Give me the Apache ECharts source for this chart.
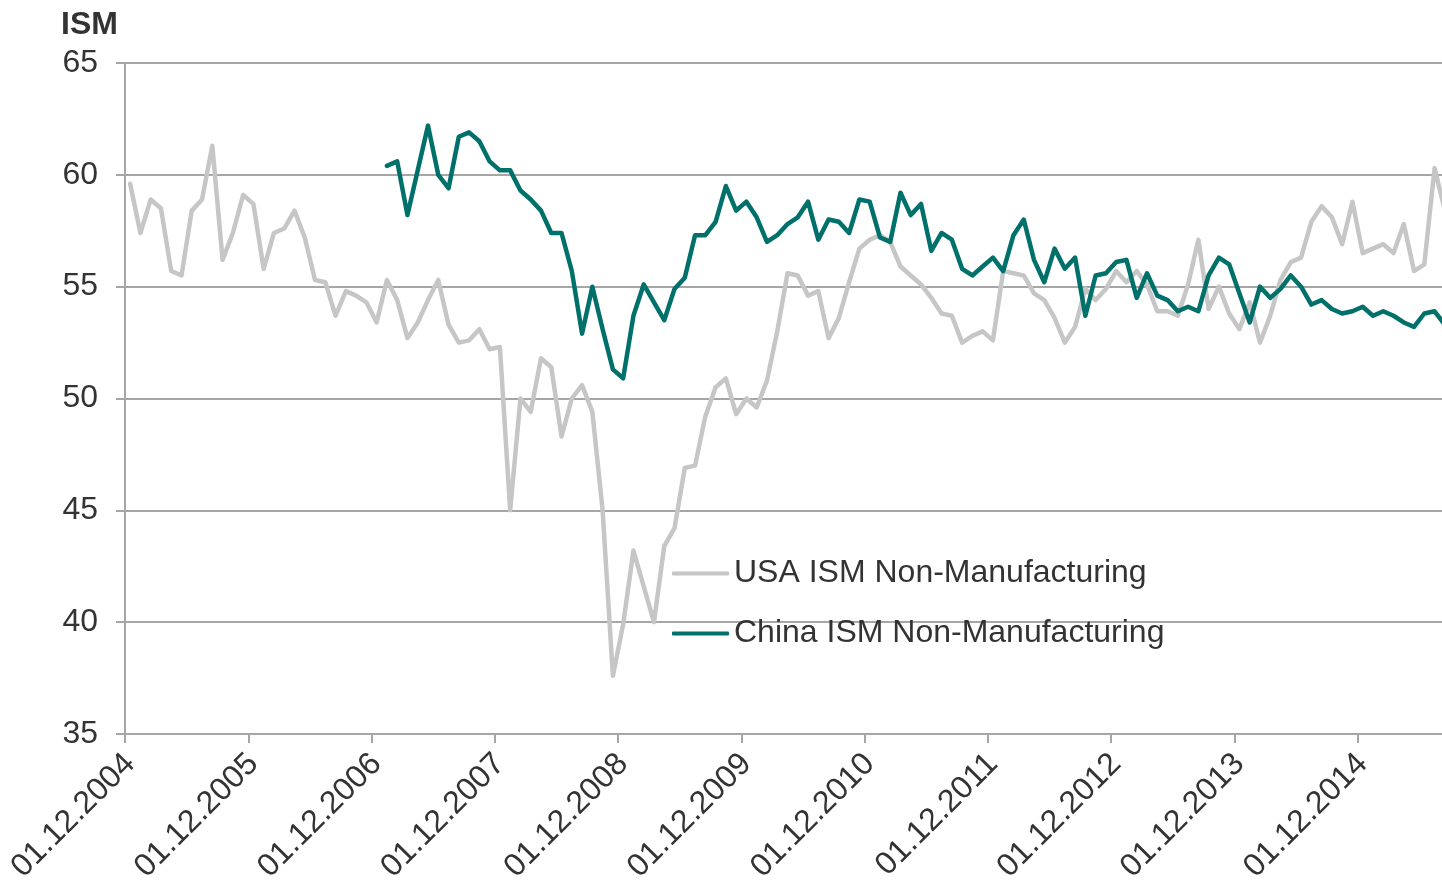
<!DOCTYPE html>
<html lang="en">
<head>
    <meta charset="UTF-8">
    <title>ISM Non-Manufacturing</title>
    <script type="text/javascript" src="https://cdn.jsdelivr.net/npm/echarts@6/dist/echarts.min.js"></script>
    <style>
        html, body { margin: 0; padding: 0; background: #fff; }
        #chart { width: 1442px; height: 889px; }
    </style>
</head>
<body>
<div id="chart"></div>
<script type="text/javascript">
// monthly values, first month 01.12.2004
var usaName = 'USA ISM Non-Manufacturing';
var chinaName = 'China ISM Non-Manufacturing';
var startYear = 2004, startMonth = 12, monthCount = 129;

var usa = [
  59.6, 57.4, 58.9, 58.5, 55.7, 55.5, 58.4, 58.9, 61.3, 56.2,
  57.4, 59.1, 58.7, 55.8, 57.4, 57.6, 58.4, 57.2, 55.3, 55.2,
  53.7, 54.8, 54.6, 54.3, 53.4, 55.3, 54.4, 52.7, 53.4, 54.4,
  55.3, 53.3, 52.5, 52.6, 53.1, 52.2, 52.3, 45.0, 50.0, 49.4,
  51.8, 51.4, 48.3, 50.0, 50.6, 49.4, 45.0, 37.6, 39.9, 43.2,
  41.6, 40.0, 43.4, 44.2, 46.9, 47.0, 49.2, 50.5, 50.9, 49.3,
  50.0, 49.6, 50.8, 53.0, 55.6, 55.5, 54.6, 54.8, 52.7, 53.6,
  55.2, 56.7, 57.1, 57.3, 57.0, 55.9, 55.5, 55.1, 54.5, 53.8,
  53.7, 52.5, 52.8, 53.0, 52.6, 55.7, 55.6, 55.5, 54.7, 54.4,
  53.6, 52.5, 53.2, 54.9, 54.4, 54.9, 55.7, 55.2, 55.7, 55.1,
  53.9, 53.9, 53.7, 55.1, 57.1, 54.0, 55.0, 53.8, 53.1, 54.3,
  52.5, 53.7, 55.3, 56.1, 56.3, 57.9, 58.6, 58.1, 56.9, 58.8,
  56.5, 56.7, 56.9, 56.5, 57.8, 55.7, 56.0, 60.3, 58.4
];

// China series starts in month 25 (01.01.2007)
var chinaStart = 25;
var chinaValues = [
  60.4, 60.6, 58.2, 60.2, 62.2, 60.0, 59.4, 61.7, 61.9, 61.5,
  60.6, 60.2, 60.2, 59.3, 58.9, 58.4, 57.4, 57.4, 55.7, 52.9,
  55.0, 53.1, 51.3, 50.9, 53.7, 55.1, 54.3, 53.5, 54.9, 55.4,
  57.3, 57.3, 57.9, 59.5, 58.4, 58.8, 58.1, 57.0, 57.3, 57.8,
  58.1, 58.8, 57.1, 58.0, 57.9, 57.4, 58.9, 58.8, 57.2, 57.0,
  59.2, 58.2, 58.7, 56.6, 57.4, 57.1, 55.8, 55.5, 55.9, 56.3,
  55.7, 57.3, 58.0, 56.2, 55.2, 56.7, 55.8, 56.3, 53.7, 55.5,
  55.6, 56.1, 56.2, 54.5, 55.6, 54.6, 54.4, 53.9, 54.1, 53.9,
  55.5, 56.3, 56.0, 54.7, 53.4, 55.0, 54.5, 54.9, 55.5, 55.0,
  54.2, 54.4, 54.0, 53.8, 53.9, 54.1, 53.7, 53.9, 53.7, 53.4,
  53.2, 53.8, 53.9, 53.3
];

var yMin = 35, yMax = 65, yStep = 5;

// build the month labels 01.MM.YYYY
var months = [];
for (var i = 0; i < monthCount; i++) {
  var m = (startMonth - 1 + i) % 12 + 1;
  var y = startYear + Math.floor((startMonth - 1 + i) / 12);
  months.push('01.' + (m < 10 ? '0' + m : m) + '.' + y);
}
var china = [];
for (var i = 0; i < monthCount; i++) {
  china.push(i < chinaStart ? null : chinaValues[i - chinaStart]);
}

var font = '"Liberation Sans", Arial, sans-serif';
var chart = echarts.init(document.getElementById('chart'));
chart.setOption({
  animation: false,
  title: {
    text: 'ISM',
    left: 56,
    top: 4,
    textStyle: { fontFamily: font, fontSize: 32, fontWeight: 'bold', color: '#333' }
  },
  legend: {
    data: [usaName, chinaName],
    orient: 'vertical',
    left: 667,
    top: 551,
    icon: 'roundRect',
    itemWidth: 57,
    itemHeight: 4,
    itemGap: 25,
    textStyle: { fontFamily: font, fontSize: 32, color: '#333', lineHeight: 35 }
  },
  grid: {
    left: 125,
    right: -8,
    top: 63,
    bottom: 155,
    outerBoundsMode: 'none'
  },
  xAxis: {
    type: 'category',
    data: months,
    boundaryGap: true,
    axisLine: { lineStyle: { color: '#a6a6a6', width: 2 } },
    axisTick: { show: true, interval: 11, length: 9, lineStyle: { color: '#a6a6a6', width: 2 } },
    axisLabel: {
      interval: 11,
      rotate: 45,
      margin: 25,
      fontFamily: font,
      fontSize: 32,
      color: '#333'
    },
    splitLine: { show: false }
  },
  yAxis: {
    type: 'value',
    min: yMin,
    max: yMax,
    interval: yStep,
    axisLine: { show: true, lineStyle: { color: '#a6a6a6', width: 2 } },
    axisTick: { show: true, length: 9, lineStyle: { color: '#a6a6a6', width: 2 } },
    axisLabel: { margin: 27, fontFamily: font, fontSize: 32, color: '#333' },
    splitLine: { show: true, lineStyle: { color: '#a6a6a6', width: 2 } }
  },
  series: [
    {
      name: usaName,
      type: 'line',
      data: usa,
      showSymbol: false,
      color: '#c6c6c6',
      lineStyle: { width: 4.5, color: '#c6c6c6', cap: 'round', join: 'round' }
    },
    {
      name: chinaName,
      type: 'line',
      data: china,
      showSymbol: false,
      color: '#00706b',
      lineStyle: { width: 4.5, color: '#00706b', cap: 'round', join: 'round' }
    }
  ]
});
</script>
</body>
</html>
